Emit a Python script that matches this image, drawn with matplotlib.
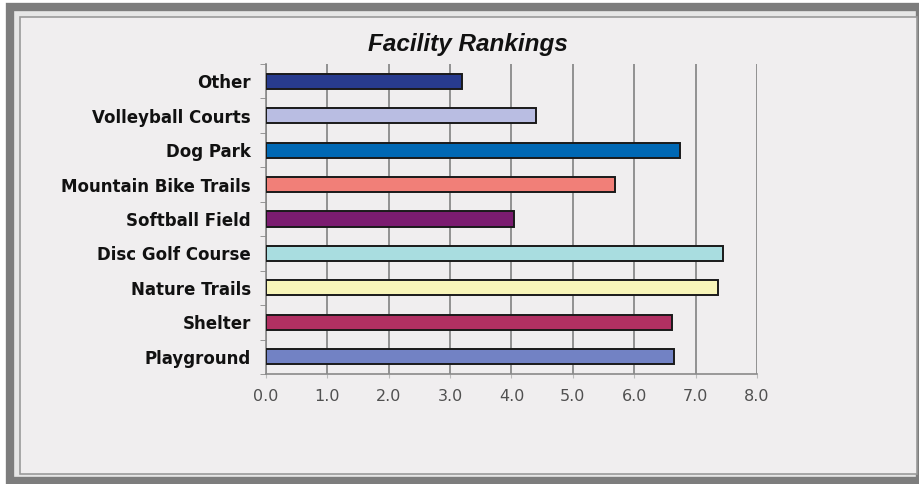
import matplotlib
matplotlib.use("Agg")
import matplotlib.pyplot as plt
from matplotlib.patches import Rectangle

categories = ["Other", "Volleyball Courts", "Dog Park", "Mountain Bike Trails",
              "Softball Field", "Disc Golf Course", "Nature Trails", "Shelter", "Playground"]
values = [3.2, 4.4, 6.74, 5.68, 4.04, 7.45, 7.37, 6.62, 6.65]
colors = ["#283b8e", "#b9bde2", "#0068b4", "#f17f78", "#7b1c70",
          "#a9dde0", "#f8f5b9", "#b13062", "#7282c4"]
xticks = [0, 1, 2, 3, 4, 5, 6, 7, 8]
xticklabels = ["0.0", "1.0", "2.0", "3.0", "4.0", "5.0", "6.0", "7.0", "8.0"]
title = "Facility Rankings"

bg = "#f0eeef"
fig = plt.figure(figsize=(9.2, 4.84), dpi=100)
fig.patch.set_facecolor("#ffffff")

# outer thick frame and inner panel
fig.patches.append(Rectangle((7/920, 0/484), 913/920, 481/484, transform=fig.transFigure,
                             facecolor="#e6e6e6", edgecolor="none", zorder=0))
fig.patches.append(Rectangle((10/920, 3/484), 910/920, 474/484, transform=fig.transFigure,
                             facecolor="none", edgecolor="#7d7d7d", linewidth=6, zorder=1))
fig.patches.append(Rectangle((20/920, 10/484), 897/920, 457/484, transform=fig.transFigure,
                             facecolor=bg, edgecolor="#9a9a9a", linewidth=1.2, zorder=2))

ax = fig.add_axes([266/920, 110/484, 491/920, 310/484])
ax.set_zorder(5)
ax.set_facecolor(bg)
ax.patch.set_alpha(0)
y = list(range(len(categories)))
ax.barh(y, values, height=0.44, color=colors, edgecolor="#1a1a1a", linewidth=1.4, zorder=3)
ax.set_ylim(len(categories) - 0.5, -0.5)
ax.set_xlim(0, 8)
ax.set_xticks(xticks)
ax.set_xticklabels(xticklabels, fontsize=11.5, color="#505050", family="DejaVu Sans")
ax.set_yticks(y)
ax.set_yticklabels(categories, fontsize=12, fontweight="bold", color="#111111", family="DejaVu Sans")
ax.set_yticks([i - 0.5 for i in range(len(categories) + 1)], minor=True)
ax.tick_params(axis="y", which="major", length=0, pad=11)
ax.tick_params(axis="y", which="minor", length=4, color="#888888")
ax.tick_params(axis="x", length=3, color="#bbbbbb", pad=8)
ax.xaxis.grid(True, color="#8a8a8a", linewidth=1.3, zorder=0)
ax.set_axisbelow(True)
for s in ["top", "right"]:
    ax.spines[s].set_visible(False)
ax.spines["left"].set_color("#8a8a8a")
ax.spines["bottom"].set_color("#8a8a8a")
ax.spines["left"].set_linewidth(1.2)
ax.spines["bottom"].set_linewidth(1.2)

fig.text(468/920, 1 - 44/484, title, ha="center", va="center", fontsize=17.5,
         fontweight="bold", fontstyle="italic", family="Liberation Sans", color="#111111",
         zorder=6)

fig.savefig("out.png", dpi=100, facecolor=fig.get_facecolor())
